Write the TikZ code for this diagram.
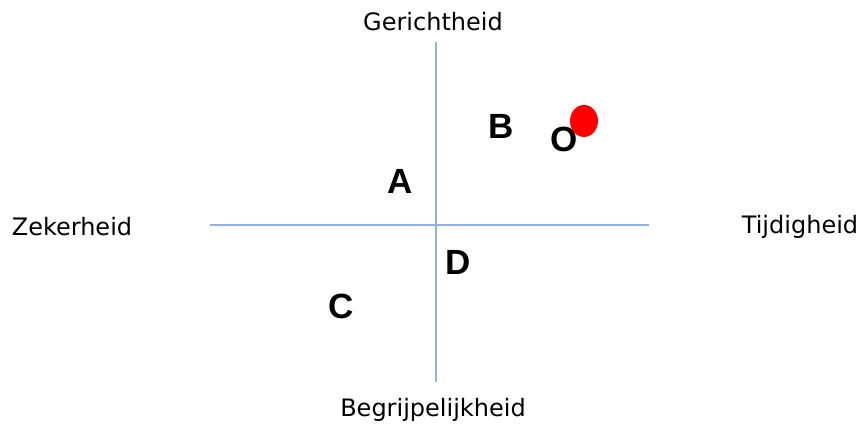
\documentclass[tikz,border=0pt]{standalone}
\usepackage{fontspec}
\setmainfont{DejaVu Sans}
\newfontfamily\letterfont{Liberation Sans}
\definecolor{axisblue}{RGB}{140,180,222}

\begin{document}
\begin{tikzpicture}[x=1pt, y=-1pt,
    axislabel/.style={font=\fontsize{24}{28}\selectfont},
    quadletter/.style={font=\letterfont\bfseries\fontsize{35}{40}\selectfont, inner sep=0pt}]

    % vaste afmetingen
    \useasboundingbox (0,0) rectangle (861,423);

    % 1. assen
    \coordinate (links) at (210,225);
    \coordinate (rechts) at (649,225);
    \coordinate (boven) at (436,42);
    \coordinate (onder) at (436,382);
    \draw[axisblue, line width=1.2pt] (links) -- (rechts);
    \draw[axisblue, line width=1.2pt] (boven) -- (onder);

    % 2. aslabels
    \node[axislabel] (gericht) at (433,22) {Gerichtheid};
    \node[axislabel] (zeker) at (72,227) {Zekerheid};
    \node[axislabel] (tijdig) at (800,227) {Tijdigheid};
    \node[axislabel] (begrip) at (433,410) {Begrijpelijkheid};

    % 3. kwadranten
    \node[quadletter] (A) at (400,181) {A};
    \node[quadletter] (B) at (501,126) {B};
    \node[quadletter] (C) at (341,306) {C};
    \node[quadletter] (D) at (458,262) {D};
    \node[quadletter] (O) at (564,139) {O};

    % 4. rode stip
    \fill[red] (584,121) ellipse (14 and 16);

\end{tikzpicture}
\end{document}
